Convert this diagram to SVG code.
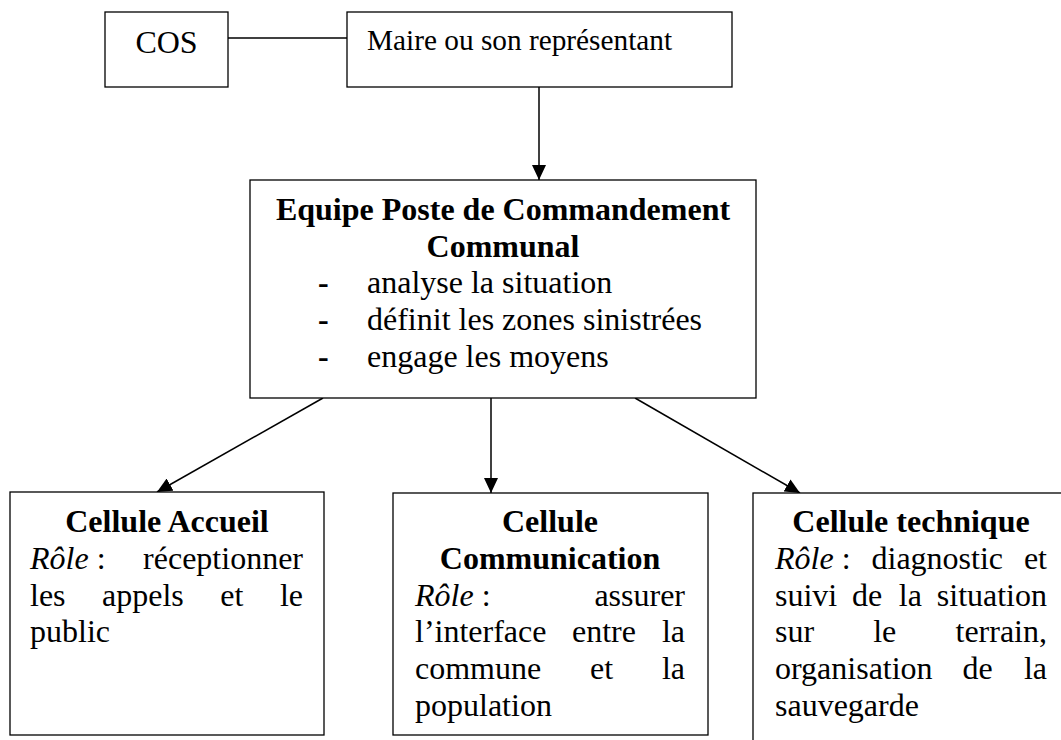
<svg xmlns="http://www.w3.org/2000/svg" width="1061" height="740" viewBox="0 0 1061 740">
<style>
.box{fill:#fff;stroke:#000;stroke-width:1.3}
.t{font-family:"Liberation Serif","Times New Roman",serif;font-size:32px;fill:#000}
.b{font-weight:bold}
.i{font-style:italic}
.m{text-anchor:middle}
.e{text-anchor:end}
.conn{stroke:#000;stroke-width:1.5;fill:none}
</style>
<defs>
<marker id="arr" markerUnits="userSpaceOnUse" markerWidth="16" markerHeight="14" refX="15" refY="7" orient="auto">
<path d="M0,0 L15,7 L0,14 z" fill="#000"/>
</marker>
</defs>
<rect width="1061" height="740" fill="#fff"/>

<g id="connectors">
<line class="conn" x1="228" y1="38" x2="347" y2="38"/>
<line class="conn" x1="539" y1="87" x2="539" y2="180" marker-end="url(#arr)"/>
<line class="conn" x1="323" y1="398" x2="157" y2="492" marker-end="url(#arr)"/>
<line class="conn" x1="491" y1="398" x2="491" y2="493" marker-end="url(#arr)"/>
<line class="conn" x1="635" y1="398" x2="800" y2="493" marker-end="url(#arr)"/>
</g>

<g id="cos">
<rect class="box" x="105" y="12" width="123" height="75"/>
<text class="t m" x="166.5" y="53">COS</text>
</g>

<g id="maire">
<rect class="box" x="347" y="12" width="385" height="75"/>
<text class="t" x="367" y="50" style="font-size:29.3px">Maire ou son représentant</text>
</g>

<g id="equipe">
<rect class="box" x="250" y="180" width="506" height="218"/>
<text class="t b m" x="503" y="220">Equipe Poste de Commandement</text>
<text class="t b m" x="503" y="257">Communal</text>
<text class="t b" x="318" y="293">-</text>
<text class="t" x="367" y="293">analyse la situation</text>
<text class="t b" x="318" y="330">-</text>
<text class="t" x="367" y="330">définit les zones sinistrées</text>
<text class="t b" x="318" y="367">-</text>
<text class="t" x="367" y="367">engage les moyens</text>
</g>

<g id="accueil">
<rect class="box" x="10" y="492" width="314" height="243"/>
<text class="t b m" x="167" y="532">Cellule Accueil</text>
<text class="t" x="30" y="569"><tspan class="i">Rôle</tspan>&#160;:</text>
<text class="t e" x="303" y="569">réceptionner</text>
<text class="t" x="30" y="605.5">les</text>
<text class="t" x="102" y="605.5">appels</text>
<text class="t" x="220.3" y="605.5">et</text>
<text class="t e" x="303" y="605.5">le</text>
<text class="t" x="30" y="642">public</text>
</g>

<g id="communication">
<rect class="box" x="393" y="493" width="315" height="242"/>
<text class="t b m" x="550" y="532">Cellule</text>
<text class="t b m" x="550" y="569">Communication</text>
<text class="t" x="415" y="605.5"><tspan class="i">Rôle</tspan>&#160;:</text>
<text class="t e" x="685" y="605.5">assurer</text>
<text class="t" x="415" y="642">l’interface</text>
<text class="t" x="572" y="642">entre</text>
<text class="t e" x="685" y="642">la</text>
<text class="t" x="415" y="679">commune</text>
<text class="t" x="590" y="679">et</text>
<text class="t e" x="685" y="679">la</text>
<text class="t" x="415" y="715.5">population</text>
</g>

<g id="technique">
<rect class="box" x="753" y="493" width="320" height="260"/>
<text class="t b m" x="911" y="532">Cellule technique</text>
<text class="t" x="775" y="569"><tspan class="i">Rôle</tspan>&#160;:</text>
<text class="t" x="871.5" y="569">diagnostic</text>
<text class="t e" x="1047" y="569">et</text>
<text class="t" x="775" y="605.5">suivi</text>
<text class="t" x="852" y="605.5">de</text>
<text class="t" x="898.8" y="605.5">la</text>
<text class="t e" x="1047" y="605.5">situation</text>
<text class="t" x="775" y="642">sur</text>
<text class="t" x="873.2" y="642">le</text>
<text class="t e" x="1047" y="642">terrain,</text>
<text class="t" x="775" y="679">organisation</text>
<text class="t" x="962.5" y="679">de</text>
<text class="t e" x="1047" y="679">la</text>
<text class="t" x="775" y="715.5">sauvegarde</text>
</g>
</svg>
